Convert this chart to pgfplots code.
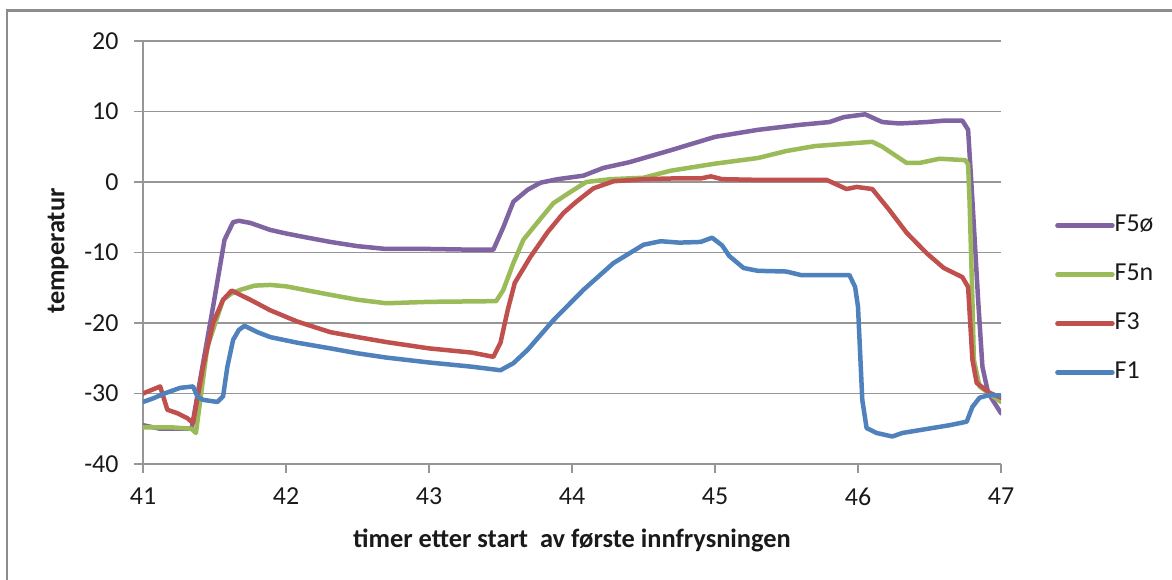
\documentclass[border=0pt]{standalone}
\usepackage{pgfplots}
\pgfplotsset{compat=1.18}
\usepackage{fontspec}
\setmainfont{Carlito}
\definecolor{cF1}{HTML}{4F81BD}
\definecolor{cF3}{HTML}{C0504D}
\definecolor{cF5n}{HTML}{9BBB59}
\definecolor{cF5o}{HTML}{8064A2}
\definecolor{gridgray}{HTML}{969696}
\definecolor{framegray}{HTML}{8C8C8C}
\definecolor{txt}{HTML}{1A1A1A}
\begin{document}
\begin{tikzpicture}
\draw[framegray, line width=2.5bp] (7bp,569.7bp) rectangle (1200bp,-30bp);
\begin{axis}[
    at={(143bp,116bp)}, anchor=south west,
    scale only axis, width=858bp, height=423bp,
    xmin=41, xmax=47, ymin=-40, ymax=20,
    xtick={41,42,...,47}, ytick={-40,-30,...,20},
    axis x line*=bottom, axis y line*=left,
    axis line style={-, gridgray, line width=1.2bp},
    ymajorgrids, major grid style={gridgray, line width=1.2bp},
    tick align=outside, major tick length=9bp,
    tick style={gridgray, line width=1.2bp},
    ticklabel style={font=\fontsize{26}{30}\selectfont, text=txt},
    xticklabel style={yshift=-11bp},
    yticklabel style={xshift=-12bp},
    /pgf/number format/assume math mode=true,
    xlabel={\textbf{timer etter start\ \ av første innfrysningen}},
    ylabel={\textbf{temperatur}},
    label style={font=\fontsize{26.5}{30}\selectfont, text=txt},
    xlabel style={at={(axis description cs:0.5,-0.1797)}, anchor=center},
    ylabel style={at={(axis description cs:-0.099,0.5035)}, anchor=center},
    legend style={at={(axis description cs:1,0.39)}, anchor=west, xshift=54bp,
        draw=none, fill=none, inner sep=0pt, row sep=27bp,
        font=\fontsize{26}{30}\selectfont, text=txt,
        nodes={inner sep=0pt, text height=17bp, text depth=5bp}},
    legend cell align=left,
    legend image code/.code={\draw[#1] (0bp,0bp) -- (55bp,0bp);},
    every axis plot/.append style={line width=4.5bp, line join=round, line cap=round},
]
\addplot[cF5o] coordinates {
(41.0,-34.5) (41.12,-35.0) (41.34,-35.0) (41.4,-28.0) (41.49,-17.7) (41.57,-8.2)
(41.63,-5.7) (41.67,-5.5) (41.75,-5.8) (41.89,-6.8) (42.0,-7.3) (42.1,-7.7)
(42.31,-8.5) (42.5,-9.1) (42.7,-9.5) (43.0,-9.5) (43.3,-9.6) (43.45,-9.6)
(43.52,-6.4) (43.59,-2.8) (43.69,-1.1) (43.78,-0.1) (43.9,0.4) (44.08,0.9)
(44.22,2.0) (44.4,2.8) (44.69,4.5) (45.0,6.4) (45.3,7.4) (45.59,8.1) (45.8,8.5)
(45.9,9.2) (46.05,9.6) (46.17,8.5) (46.29,8.3) (46.48,8.5) (46.6,8.7) (46.73,8.7)
(46.77,7.4) (46.8,-2.6) (46.84,-16.7) (46.87,-26.2) (46.91,-29.9) (47.0,-32.8)
};
\addlegendentry{F5ø}
\addplot[cF5n] coordinates {
(41.0,-34.8) (41.2,-34.8) (41.34,-35.0) (41.37,-35.6) (41.45,-23.4) (41.56,-16.7)
(41.62,-15.8) (41.68,-15.3) (41.78,-14.7) (41.89,-14.6) (42.0,-14.8) (42.31,-16.0)
(42.5,-16.7) (42.7,-17.2) (43.0,-17.0) (43.47,-16.9) (43.52,-15.3) (43.59,-11.5)
(43.66,-8.2) (43.76,-5.7) (43.87,-3.0) (43.99,-1.4) (44.1,0.0) (44.27,0.4)
(44.5,0.6) (44.69,1.6) (45.0,2.6) (45.3,3.4) (45.5,4.4) (45.7,5.1) (45.9,5.4)
(46.1,5.7) (46.17,5.0) (46.34,2.7) (46.43,2.7) (46.57,3.3) (46.75,3.1) (46.77,2.5)
(46.78,-2.6) (46.8,-16.7) (46.81,-25.2) (46.85,-29.0) (47.0,-31.2)
};
\addlegendentry{F5n}
\addplot[cF3] coordinates {
(41.0,-30.0) (41.12,-29.0) (41.17,-32.3) (41.24,-32.8) (41.31,-33.5) (41.35,-34.2)
(41.42,-26.2) (41.49,-20.0) (41.56,-16.7) (41.62,-15.4) (41.75,-16.7) (41.89,-18.2)
(42.08,-19.8) (42.31,-21.3) (42.5,-22.0) (42.7,-22.7) (43.0,-23.6) (43.3,-24.2)
(43.45,-24.8) (43.5,-22.8) (43.55,-18.2) (43.6,-14.3) (43.71,-10.6) (43.83,-7.1)
(43.94,-4.4) (44.03,-2.8) (44.15,-0.9) (44.29,0.1) (44.5,0.4) (44.7,0.5) (44.9,0.5)
(44.97,0.8) (45.05,0.4) (45.3,0.3) (45.59,0.3) (45.78,0.3) (45.92,-1.0) (45.99,-0.7)
(46.1,-1.0) (46.22,-4.0) (46.34,-7.2) (46.48,-10.1) (46.6,-12.2) (46.73,-13.5)
(46.77,-14.9) (46.8,-25.2) (46.83,-28.5) (46.92,-29.9) (47.0,-30.6)
};
\addlegendentry{F3}
\addplot[cF1] coordinates {
(41.00,-31.2) (41.07,-30.7) (41.15,-30.0) (41.26,-29.2) (41.35,-29.0) (41.38,-30.4)
(41.42,-30.9) (41.52,-31.2) (41.56,-30.4) (41.59,-26.2) (41.63,-22.4) (41.67,-21.0)
(41.71,-20.4) (41.80,-21.3) (41.89,-22.0) (42.08,-22.8) (42.31,-23.6) (42.5,-24.3)
(42.7,-24.9) (43.0,-25.6) (43.3,-26.2) (43.5,-26.7) (43.59,-25.7) (43.69,-23.8)
(43.87,-19.6) (44.08,-15.3) (44.29,-11.5) (44.5,-8.9) (44.62,-8.4) (44.75,-8.6)
(44.9,-8.5) (44.98,-7.9) (45.05,-9.0) (45.1,-10.5) (45.2,-12.2) (45.3,-12.6)
(45.5,-12.7) (45.6,-13.2) (45.94,-13.2) (45.98,-14.9) (46.0,-17.7) (46.03,-30.9)
(46.06,-34.9) (46.13,-35.6) (46.24,-36.1) (46.31,-35.6) (46.52,-34.9) (46.64,-34.5)
(46.76,-34.0) (46.8,-31.9) (46.85,-30.6) (46.92,-30.2) (47.0,-30.3)
};
\addlegendentry{F1}
\end{axis}
\pgfresetboundingbox
\useasboundingbox (0,0) rectangle (1172bp,580bp);
\end{tikzpicture}
\end{document}
